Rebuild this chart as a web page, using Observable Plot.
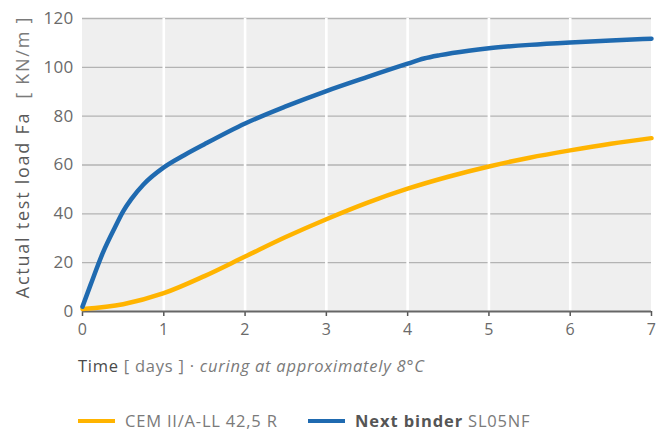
<!DOCTYPE html>
<html>
<head>
<meta charset="utf-8">
<script src="https://cdn.jsdelivr.net/npm/d3@7"></script>
<script src="https://cdn.jsdelivr.net/npm/@observablehq/plot@0.6"></script>
<style>
  body { margin: 0; background: #fff; font-family: "Open Sans", "Noto Sans", sans-serif; }
  #wrap { position: relative; width: 668px; height: 432px; }
  #chart { position: absolute; left: 0; top: 0; }
  #chart svg text { letter-spacing: 0.3px; }
  #xtitle { position: absolute; left: 78px; top: 354px; font-size: 16.5px; letter-spacing: 0.75px; color: #7a7a7a; white-space: nowrap; }
  #xtitle b { font-weight: normal; color: #4a4a4a; }
  #xtitle i { font-style: italic; }
  #legend { position: absolute; left: 0; top: 409px; width: 668px; height: 24px; font-size: 16.5px; color: #7a7a7a; white-space: nowrap; letter-spacing: 0.8px; }
  .sw { display: inline-block; width: 37px; height: 4px; margin-right: 10px; }
  .item { position: absolute; top: 0; display: flex; align-items: center; }
  .item b { color: #555; font-weight: bold; margin-right: 5px; letter-spacing: 0.9px; }
</style>
</head>
<body>
<div id="wrap">
  <div id="chart"></div>
  <div id="xtitle"><b>Time</b> [ days ] · <i>curing at approximately 8°C</i></div>
  <div id="legend"></div>
</div>
<script>
const seriesNames = ["CEM II/A-LL 42,5 R", "Next binder SL05NF"];
const seriesColors = ["#ffb400", "#1f6ab0"];

const cemDays   = [0, 0.5, 1, 1.5, 2, 2.5, 3, 3.5, 4, 4.5, 5, 5.5, 6, 6.5, 7];
const cemLoad   = [1, 3, 7.5, 14.5, 22.5, 30.5, 37.8, 44.5, 50.3, 55.2, 59.4, 63, 66, 68.7, 71];

const nextDays  = [0, 0.1, 0.25, 0.4, 0.5, 0.6, 0.75, 1, 1.25, 1.5, 2, 2.5, 3, 3.5, 4, 4.2, 4.4, 4.75, 5, 5.5, 6, 6.5, 7];
const nextLoad  = [2, 11, 24, 34.5, 41, 46, 52, 59, 64, 68.5, 77, 84, 90.3, 96, 101.5, 103.6, 105, 106.8, 107.8, 109.2, 110.2, 111, 111.7];

const xTicks = [0, 1, 2, 3, 4, 5, 6, 7];
const yTicks = [0, 20, 40, 60, 80, 100, 120];
const xGrid = [1, 2, 3, 4, 5, 6];

const data = [
  ...cemDays.map((d, i) => ({series: seriesNames[0], day: d, load: cemLoad[i]})),
  ...nextDays.map((d, i) => ({series: seriesNames[1], day: d, load: nextLoad[i]}))
];

const chart = Plot.plot({
  width: 668,
  height: 350,
  marginLeft: 82,
  marginRight: 17,
  marginTop: 18,
  marginBottom: 39,
  style: {fontFamily: "'Open Sans', 'Noto Sans', sans-serif", background: "transparent"},
  x: {domain: [0, 7], label: null},
  y: {domain: [0, 120], label: null},
  color: {domain: seriesNames, range: seriesColors},
  marks: [
    Plot.rect([{}], {x1: 0, x2: 7, y1: 0, y2: 120, fill: "#efefef"}),
    Plot.ruleY(yTicks.filter(v => v > 0), {stroke: "#b3b3b3", strokeWidth: 1.3}),
    Plot.ruleX(xGrid, {stroke: "#ffffff", strokeWidth: 2.6}),
    Plot.axisY(yTicks, {tickSize: 0, tickPadding: 9, fontSize: 17, fill: "#6a6a6a", label: null}),
    Plot.axisX(xTicks, {tickSize: 5, tickPadding: 7, fontSize: 16, fill: "#6a6a6a", stroke: "#555", strokeWidth: 1.5, label: null}),
    Plot.ruleY([0], {stroke: "#666", strokeWidth: 2}),
    Plot.line(data, {x: "day", y: "load", z: "series", stroke: "series", strokeWidth: 4.5, curve: "monotone-x"})
  ]
});
document.getElementById("chart").appendChild(chart);

// Y axis title (rotated) inside the SVG
const svg = d3.select(chart);
const t = svg.append("text")
  .attr("transform", "translate(29,157) rotate(-90)")
  .attr("text-anchor", "middle")
  .style("font-size", "18px")
  .style("letter-spacing", "1.75px")
  .style("font-family", "'Open Sans', 'Noto Sans', sans-serif");
t.append("tspan").attr("fill", "#5a5a5a").text("Actual test load Fa");
t.append("tspan").attr("fill", "#7a7a7a").attr("xml:space", "preserve").text("  [ KN/m ]");

// Legend
const legend = document.getElementById("legend");
const parts = [[null, seriesNames[0]], ["Next binder", "SL05NF"]];
const lefts = [78, 308];
seriesNames.forEach((name, i) => {
  const item = document.createElement("span");
  item.className = "item";
  item.style.left = lefts[i] + "px";
  const sw = document.createElement("span");
  sw.className = "sw";
  sw.style.background = seriesColors[i];
  item.appendChild(sw);
  if (parts[i][0]) {
    const b = document.createElement("b");
    b.textContent = parts[i][0];
    item.appendChild(b);
  }
  item.appendChild(document.createTextNode(parts[i][1]));
  legend.appendChild(item);
});
</script>
</body>
</html>
